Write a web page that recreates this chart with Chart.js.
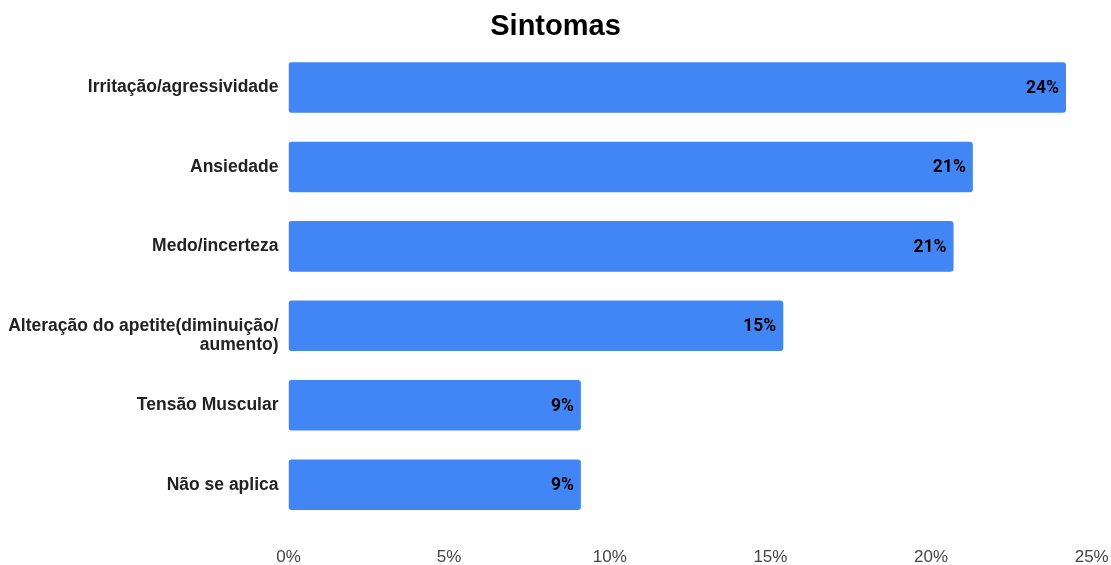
<!DOCTYPE html>
<html>
<head>
<meta charset="utf-8">
<script src="https://cdn.jsdelivr.net/npm/chart.js@4.4.1/dist/chart.umd.min.js"></script>
<style>
  html, body { margin: 0; padding: 0; background: #ffffff; }
  #wrap { width: 1111px; height: 565px; position: relative; }
</style>
</head>
<body>
<div id="wrap"><canvas id="c" width="1111" height="565"></canvas></div>
<script>
const titleText = 'Sintomas';
const categories = [
  'Irritação/agressividade',
  'Ansiedade',
  'Medo/incerteza',
  ['Alteração do apetite(diminuição/', 'aumento)'],
  'Tensão Muscular',
  'Não se aplica'
];
const values = [24.2, 21.3, 20.7, 15.4, 9.1, 9.1];
const xTickMin = 0;
const xTickMax = 25;
const xTickStep = 5;

const barLabelPlugin = {
  id: 'barLabels',
  afterDatasetsDraw(chart) {
    const ctx = chart.ctx;
    const meta = chart.getDatasetMeta(0);
    ctx.save();
    ctx.font = 'bold 17.5px Roboto, "Liberation Sans", Arial, sans-serif';
    ctx.fillStyle = '#000000';
    ctx.textAlign = 'right';
    ctx.textBaseline = 'middle';
    meta.data.forEach((bar, i) => {
      const v = chart.data.datasets[0].data[i];
      ctx.fillText(Math.round(v) + '%', bar.x - 7, bar.y + 1);
    });
    ctx.restore();
  }
};

new Chart(document.getElementById('c'), {
  type: 'bar',
  data: {
    labels: categories,
    datasets: [{
      data: values,
      backgroundColor: '#4285F4',
      borderRadius: 3,
      borderSkipped: false,
      barPercentage: 0.636,
      categoryPercentage: 1.0
    }]
  },
  options: {
    indexAxis: 'y',
    responsive: false,
    animation: false,
    layout: { padding: { top: 0, left: 0, right: 0, bottom: 0 } },
    plugins: {
      legend: { display: false },
      tooltip: { enabled: false },
      title: {
        display: true,
        text: titleText,
        color: '#000000',
        font: { family: '"Liberation Sans", Arial, sans-serif', size: 29, weight: 'bold' },
        padding: { top: 10, bottom: 3 }
      }
    },
    scales: {
      x: {
        min: xTickMin,
        max: xTickMax,
        grid: { display: false, drawTicks: false },
        border: { display: false },
        ticks: {
          stepSize: xTickStep,
          padding: 23,
          color: '#444444',
          font: { family: '"Liberation Sans", Arial, sans-serif', size: 17 },
          callback: (v) => v + '%'
        },
        afterFit(scale) {
          scale.height = 40.6;
          scale.paddingRight = 19.3;
          scale.paddingLeft = 0;
        }
      },
      y: {
        grid: { display: false, drawTicks: false },
        border: { display: false },
        ticks: {
          padding: 10,
          color: '#222222',
          font: { family: '"Liberation Sans", Arial, sans-serif', size: 17.5, weight: 'bold', lineHeight: 1.13 },
          callback: function (value, index) {
            const lbl = this.getLabelForValue(value);
            const raw = categories[index];
            // multi-line labels start at the bar's middle, as in the reference
            return Array.isArray(raw) ? [''].concat(raw) : lbl;
          }
        },
        afterFit(scale) {
          scale.width = 288.5;
        }
      }
    }
  },
  plugins: [barLabelPlugin]
});
</script>
</body>
</html>
